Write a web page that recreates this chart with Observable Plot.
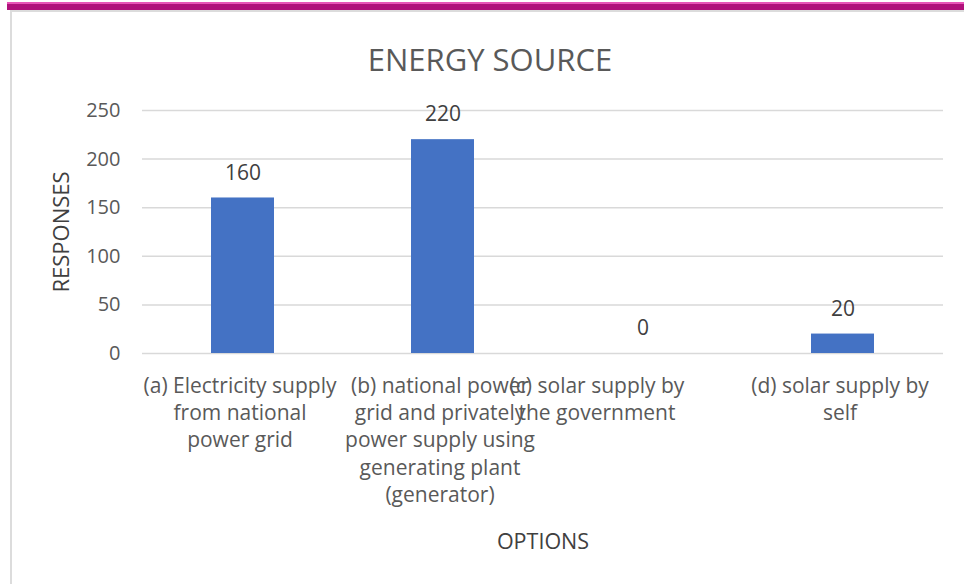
<!DOCTYPE html>
<html>
<head>
<meta charset="utf-8">
<script src="https://cdn.jsdelivr.net/npm/d3@7"></script>
<script src="https://cdn.jsdelivr.net/npm/@observablehq/plot@0.6"></script>
<style>
  html, body { margin: 0; padding: 0; background: #fff; overflow: hidden; }
  #wrap { position: relative; width: 964px; height: 584px; overflow: hidden; font-family: "Open Sans", sans-serif; }
  #topbar { position: absolute; left: 7px; top: 2px; width: 960px; height: 8px; background: #B0117B; border-top: 2px solid #E855B8; box-sizing: border-box; }
  #frame { position: absolute; left: 10px; top: 10px; width: 980px; height: 600px; border: 2px solid #dcdcdc; box-sizing: border-box; pointer-events: none; }
  #title { position: absolute; left: 16px; top: 0; width: 948px; height: 85px; line-height: 119px; text-align: center; font-size: 31px; color: #595959; }
  #chart { position: absolute; left: 0; top: 85px; }
</style>
</head>
<body>
<div id="wrap">
  <div id="topbar"></div>
  <div id="frame"></div>
  <div id="title">ENERGY SOURCE</div>
  <div id="chart"></div>
</div>
<script>
const categories = ["a", "b", "c", "d"];
const categoryLabels = [
  "(a) Electricity supply\nfrom national\npower grid",
  "(b) national power\ngrid and privately\npower supply using\ngenerating plant\n(generator)",
  "(c) solar supply by\nthe government",
  "(d) solar supply by\nself"
];
const responses = [160, 220, 0, 20];
const yTicks = [0, 50, 100, 150, 200, 250];

const data = categories.map((c, i) => ({cat: c, label: categoryLabels[i], value: responses[i]}));

const labelStyle = {x: "cat", frameAnchor: "bottom", text: "label", lineAnchor: "top", dy: 20, lineHeight: 1.3, fontSize: 21, fill: "#595959"};

const chart = Plot.plot({
  width: 964,
  height: 499,
  marginLeft: 142,
  marginRight: 21,
  marginTop: 25,
  marginBottom: 231,
  style: {fontFamily: "'Open Sans', sans-serif", fontSize: "20px", color: "#595959", background: "transparent"},
  x: {domain: categories, paddingInner: 0.685, paddingOuter: 0.3425, axis: null},
  y: {domain: [0, 250], ticks: yTicks, axis: null},
  marks: [
    Plot.gridY(yTicks, {stroke: "#d9d9d9", strokeOpacity: 1, strokeWidth: 1.5}),
    Plot.barY(data, {x: "cat", y: "value", fill: "#4472C4"}),
    Plot.axisY(yTicks, {tickSize: 0, tickPadding: 22, label: null, fontSize: 20, fill: "#595959"}),
    Plot.text(data, {x: "cat", y: "value", text: d => String(d.value), dy: -25, fontSize: 21, fill: "#404040"}),
    Plot.text(data.filter(d => d.cat !== "c"), {...labelStyle, dx: -3}),
    Plot.text(data.filter(d => d.cat === "c"), {...labelStyle, dx: -46}),
    Plot.text(["RESPONSES"], {frameAnchor: "left", textAnchor: "middle", dx: -81, rotate: -90, fontSize: 22, fill: "#404040"}),
    Plot.text(["OPTIONS"], {frameAnchor: "bottom", lineAnchor: "middle", dy: 189, fontSize: 21.5, fill: "#404040"})
  ]
});
document.getElementById("chart").appendChild(chart);
</script>
</body>
</html>
